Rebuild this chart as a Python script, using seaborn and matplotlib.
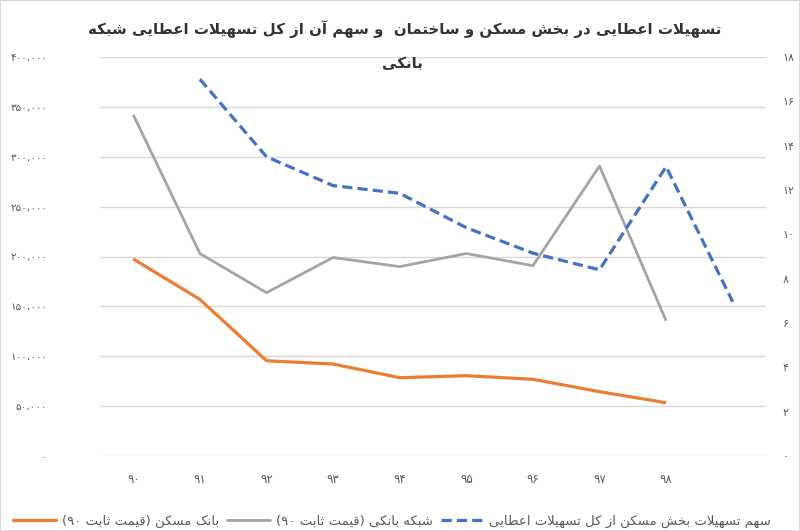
import re
import matplotlib
matplotlib.use("Agg")
import matplotlib.pyplot as plt
from matplotlib.lines import Line2D
from matplotlib.patches import Rectangle
import seaborn as sns
import pandas as pd

# ---------------- data ----------------
categories = ['۹۰', '۹۱', '۹۲', '۹۳', '۹۴', '۹۵', '۹۶', '۹۷', '۹۸', '']
bank_maskan = [197500, 157000, 95500, 92200, 78500, 80500, 76900, 64500, 53400]      # categories 0..8
shabake_banki = [342000, 203000, 163700, 199000, 189800, 203000, 190800, 290700, 135600]  # categories 0..8
share_pct = [17.0, 13.5, 12.2, 11.85, 10.3, 9.15, 8.4, 13.05, 6.96]                  # categories 1..9
left_ticks = [0, 50000, 100000, 150000, 200000, 250000, 300000, 350000, 400000]
right_ticks = [0, 2, 4, 6, 8, 10, 12, 14, 16, 18]

title_line1 = 'تسهیلات اعطایی در بخش مسکن و ساختمان  و سهم آن از کل تسهیلات اعطایی شبکه'
title_line2 = 'بانکی'
label_maskan = 'بانک مسکن (قیمت ثابت ۹۰)'
label_shabake = 'شبکه بانکی (قیمت ثابت ۹۰)'
label_share = 'سهم تسهیلات بخش مسکن از کل تسهیلات اعطایی'

# ---------------- simple Arabic/Persian shaping + RTL ordering ----------------
FORMS = {  # isolated, final, initial, medial
    'ا': (0xFE8D, 0xFE8E, None, None), 'آ': (0xFE81, 0xFE82, None, None),
    'ب': (0xFE8F, 0xFE90, 0xFE91, 0xFE92), 'پ': (0xFB56, 0xFB57, 0xFB58, 0xFB59),
    'ت': (0xFE95, 0xFE96, 0xFE97, 0xFE98), 'ث': (0xFE99, 0xFE9A, 0xFE9B, 0xFE9C),
    'ج': (0xFE9D, 0xFE9E, 0xFE9F, 0xFEA0), 'چ': (0xFB7A, 0xFB7B, 0xFB7C, 0xFB7D),
    'ح': (0xFEA1, 0xFEA2, 0xFEA3, 0xFEA4), 'خ': (0xFEA5, 0xFEA6, 0xFEA7, 0xFEA8),
    'د': (0xFEA9, 0xFEAA, None, None), 'ذ': (0xFEAB, 0xFEAC, None, None),
    'ر': (0xFEAD, 0xFEAE, None, None), 'ز': (0xFEAF, 0xFEB0, None, None),
    'ژ': (0xFB8A, 0xFB8B, None, None),
    'س': (0xFEB1, 0xFEB2, 0xFEB3, 0xFEB4), 'ش': (0xFEB5, 0xFEB6, 0xFEB7, 0xFEB8),
    'ص': (0xFEB9, 0xFEBA, 0xFEBB, 0xFEBC), 'ض': (0xFEBD, 0xFEBE, 0xFEBF, 0xFEC0),
    'ط': (0xFEC1, 0xFEC2, 0xFEC3, 0xFEC4), 'ظ': (0xFEC5, 0xFEC6, 0xFEC7, 0xFEC8),
    'ع': (0xFEC9, 0xFECA, 0xFECB, 0xFECC), 'غ': (0xFECD, 0xFECE, 0xFECF, 0xFED0),
    'ف': (0xFED1, 0xFED2, 0xFED3, 0xFED4), 'ق': (0xFED5, 0xFED6, 0xFED7, 0xFED8),
    'ک': (0xFB8E, 0xFB8F, 0xFB90, 0xFB91), 'گ': (0xFB92, 0xFB93, 0xFB94, 0xFB95),
    'ل': (0xFEDD, 0xFEDE, 0xFEDF, 0xFEE0), 'م': (0xFEE1, 0xFEE2, 0xFEE3, 0xFEE4),
    'ن': (0xFEE5, 0xFEE6, 0xFEE7, 0xFEE8), 'ه': (0xFEE9, 0xFEEA, 0xFEEB, 0xFEEC),
    'و': (0xFEED, 0xFEEE, None, None), 'ی': (0xFBFC, 0xFBFD, 0xFBFE, 0xFBFF),
}
LAM_ALEF = {'ا': (0xFEFB, 0xFEFC), 'آ': (0xFEF5, 0xFEF6)}


def _joins_forward(c):
    return c in FORMS and FORMS[c][2] is not None


def shape(text):
    out = []
    n = len(text)
    i = 0
    while i < n:
        c = text[i]
        if c not in FORMS:
            out.append(c)
            i += 1
            continue
        prev_join = i > 0 and _joins_forward(text[i - 1])
        if c == 'ل' and i + 1 < n and text[i + 1] in LAM_ALEF:
            iso, fin = LAM_ALEF[text[i + 1]]
            out.append(chr(fin if prev_join else iso))
            i += 2
            continue
        next_join = _joins_forward(c) and i + 1 < n and text[i + 1] in FORMS
        iso, fin, ini, med = FORMS[c]
        if prev_join and next_join:
            code = med
        elif prev_join:
            code = fin
        elif next_join:
            code = ini
        else:
            code = iso
        out.append(chr(code))
        i += 1
    return ''.join(out)


MIRROR = {'(': ')', ')': '('}
DIGITS = r'[\u06F0-\u06F90-9\u060C]+'


def rtl(text):
    s = shape(text)
    tokens = re.findall(DIGITS + r'|[^\u06F0-\u06F90-9\u060C]+', s)
    res = []
    for tok in reversed(tokens):
        if re.fullmatch(DIGITS, tok):
            res.append(tok)
        else:
            res.append(''.join(MIRROR.get(ch, ch) for ch in reversed(tok)))
    return ''.join(res)


def fa_digits(v):
    return str(v).translate(str.maketrans('0123456789', '۰۱۲۳۴۵۶۷۸۹'))


def fa_thousands(v):
    return fa_digits(f'{v:,}').replace(',', '،')

# ---------------- plotting ----------------
sns.set_theme(style='white')
plt.rcParams['font.family'] = ['DejaVu Sans']

fig = plt.figure(figsize=(8.0, 5.31), dpi=100)
ax = fig.add_axes([100 / 800, 1 - 456 / 531, 666 / 800, 399 / 531])
ax2 = ax.twinx()

ORANGE = '#ED7D31'
GRAY = '#A5A5A5'
BLUE = '#4472C4'
TICK_C = '#595959'

df1 = pd.DataFrame({'x': list(range(len(bank_maskan))), 'y': bank_maskan})
df2 = pd.DataFrame({'x': list(range(len(shabake_banki))), 'y': shabake_banki})
df3 = pd.DataFrame({'x': list(range(1, 1 + len(share_pct))), 'y': share_pct})

sns.lineplot(data=df1, x='x', y='y', ax=ax, color=ORANGE, linewidth=2.3, legend=False,
             solid_capstyle='butt', zorder=3)
sns.lineplot(data=df2, x='x', y='y', ax=ax, color=GRAY, linewidth=2.0, legend=False,
             solid_capstyle='butt', zorder=3)
sns.lineplot(data=df3, x='x', y='y', ax=ax2, color=BLUE, linewidth=2.3, legend=False, zorder=3)
ax2.lines[-1].set_dashes((3.2, 1.6))
ax2.lines[-1].set_dash_capstyle('butt')

ax.set_xlim(-0.5, len(categories) - 0.5)
ax.set_ylim(0, 400000)
ax2.set_ylim(0, 18)

ax.set_yticks(left_ticks)
ax.set_yticklabels([fa_thousands(v) for v in left_ticks])
ax2.set_yticks(right_ticks)
ax2.set_yticklabels([fa_digits(v) for v in right_ticks])
ax.set_xticks(range(len(categories)))
ax.set_xticklabels(categories)

for a in (ax, ax2):
    for sp in a.spines.values():
        sp.set_visible(False)
    a.set_xlabel('')
    a.set_ylabel('')

ax.yaxis.grid(True, color='#D9D9D9', linewidth=1.0)
ax.xaxis.grid(False)
ax2.grid(False)
ax.set_axisbelow(True)

ax.tick_params(axis='y', length=0, pad=38, labelsize=7.5, labelcolor=TICK_C)
ax2.tick_params(axis='y', length=0, pad=12, labelsize=8, labelcolor=TICK_C)
ax.tick_params(axis='x', length=0, pad=12, labelsize=8.5, labelcolor=TICK_C)

# title
fig.text(0.506, 1 - 29 / 531, rtl(title_line1), ha='center', va='center',
         fontsize=10.8, fontweight='bold', color='#333333')
fig.text(0.503, 1 - 63 / 531, rtl(title_line2), ha='center', va='center',
         fontsize=10.8, fontweight='bold', color='#333333')

# legend
handles = [
    Line2D([], [], color=ORANGE, linewidth=2.3),
    Line2D([], [], color=GRAY, linewidth=2.0),
    Line2D([], [], color=BLUE, linewidth=2.3, dashes=(3.2, 1.6)),
]
labels = [rtl(label_maskan), rtl(label_shabake), rtl(label_share)]
fig.legend(handles, labels, loc='center', bbox_to_anchor=(0.49, 1 - 521 / 531), ncol=3,
           frameon=False, fontsize=9.5, handlelength=3.3, handletextpad=0.4,
           columnspacing=0.6, labelcolor=TICK_C)

# chart border
fig.patches.append(Rectangle((0, 0), 1, 1, transform=fig.transFigure, fill=False,
                             edgecolor='#D9D9D9', linewidth=1.5))

fig.savefig('out.png', dpi=100)
